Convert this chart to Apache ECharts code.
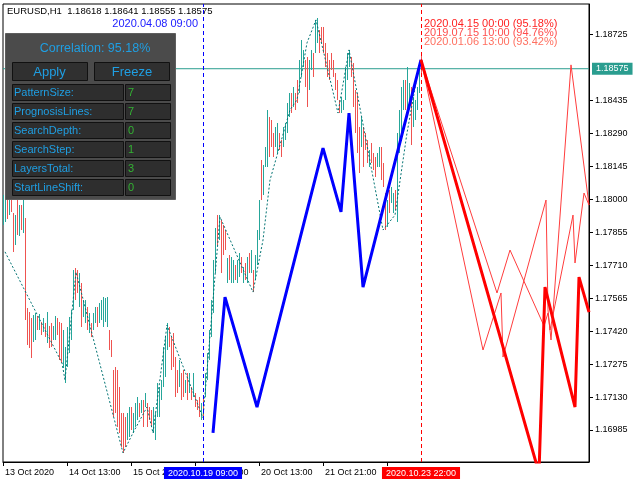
<!DOCTYPE html>
<html><head><meta charset="utf-8">
<script src="https://cdn.jsdelivr.net/npm/echarts@6/dist/echarts.min.js"></script>
<style>html,body{margin:0;padding:0;background:#fff}#c{width:640px;height:480px}</style>
</head><body><div id="c"></div>
<script>
// ---------- data ----------
const symbolName = 'EURUSD,H1';
const lastOHLC = [1.18618, 1.18641, 1.18555, 1.18575];

// hourly bars, 13 Oct 2020 05:00 .. 23 Oct 2020 22:00 (index 0..209)
const highs = [
1.18020,1.18064,1.18042,1.18020,1.18033,1.17940,1.17932,1.18006,1.17976,1.17976,
1.17998,1.17918,1.17522,1.17505,1.17478,1.17491,1.17500,1.17487,1.17496,1.17461,
1.17478,1.17456,1.17505,1.17443,1.17456,1.17443,1.17487,1.17478,1.17461,1.17456,
1.17425,1.17350,1.17438,1.17483,1.17513,1.17689,1.17698,1.17689,1.17676,1.17632,
1.17557,1.17557,1.17527,1.17500,1.17456,1.17500,1.17527,1.17527,1.17544,1.17557,
1.17571,1.17566,1.17571,1.17425,1.17381,1.17249,1.17262,1.17249,1.17174,1.17060,
1.17060,1.17042,1.17060,1.17086,1.17086,1.17060,1.17104,1.17130,1.17104,1.17117,
1.17117,1.17148,1.17104,1.17086,1.17073,1.17086,1.17060,1.17192,1.17174,1.17205,
1.17350,1.17394,1.17456,1.17438,1.17394,1.17412,1.17306,1.17249,1.17293,1.17236,
1.17249,1.17205,1.17236,1.17236,1.17174,1.17236,1.17148,1.17117,1.17130,1.17104,
1.17130,1.17236,1.17324,1.17425,1.17557,1.17733,1.17874,1.17932,1.17932,1.17910,
1.17887,1.17866,1.17742,1.17755,1.17747,1.17733,1.17711,1.17733,1.17764,1.17747,
1.17703,1.17720,1.17747,1.17764,1.17777,1.17689,1.17755,1.17866,1.17998,1.18174,
1.18152,1.18231,1.18394,1.18363,1.18350,1.18293,1.18319,1.18337,1.18293,1.18262,
1.18319,1.18337,1.18425,1.18469,1.18469,1.18495,1.18469,1.18526,1.18614,1.18702,
1.18658,1.18614,1.18627,1.18614,1.18658,1.18645,1.18790,1.18799,1.18746,1.18759,
1.18759,1.18689,1.18645,1.18614,1.18645,1.18614,1.18557,1.18526,1.18438,1.18451,
1.18438,1.18583,1.18645,1.18658,1.18627,1.18601,1.18482,1.18469,1.18319,1.18363,
1.18319,1.18293,1.18262,1.18218,1.18249,1.18205,1.18187,1.18205,1.18231,1.18231,
1.18161,1.18028,1.17998,1.18042,1.18055,1.18028,1.18042,1.18293,1.18394,1.18495,
1.18526,1.18526,1.18583,1.18513,1.18495,1.18451,1.18438,1.18495,1.18601,1.18641];
const lows = [
1.17887,1.17901,1.17914,1.17932,1.17945,1.17769,1.17799,1.17843,1.17839,1.17866,
1.17852,1.17469,1.17359,1.17346,1.17302,1.17372,1.17381,1.17425,1.17425,1.17403,
1.17416,1.17394,1.17368,1.17346,1.17350,1.17381,1.17381,1.17403,1.17293,1.17280,
1.17258,1.17192,1.17262,1.17324,1.17381,1.17513,1.17557,1.17588,1.17527,1.17438,
1.17483,1.17456,1.17425,1.17412,1.17394,1.17425,1.17456,1.17438,1.17456,1.17469,
1.17438,1.17461,1.17438,1.17337,1.17306,1.17042,1.17060,1.16998,1.16972,1.16910,
1.16884,1.16910,1.16941,1.16954,1.16985,1.16972,1.16998,1.17029,1.17042,1.17060,
1.16998,1.17086,1.16998,1.17029,1.16998,1.16972,1.16941,1.17042,1.17042,1.17117,
1.17174,1.17218,1.17337,1.17350,1.17249,1.17262,1.17130,1.17148,1.17174,1.17117,
1.17130,1.17148,1.17117,1.17148,1.17117,1.17130,1.17086,1.17073,1.17042,1.17029,
1.17042,1.17130,1.17205,1.17293,1.17394,1.17500,1.17676,1.17799,1.17821,1.17676,
1.17755,1.17777,1.17632,1.17645,1.17632,1.17632,1.17645,1.17632,1.17659,1.17676,
1.17632,1.17645,1.17632,1.17676,1.17676,1.17593,1.17645,1.17711,1.17821,1.17998,
1.18020,1.18143,1.18143,1.18187,1.18231,1.18187,1.18231,1.18205,1.18218,1.18187,
1.18231,1.18262,1.18293,1.18363,1.18381,1.18407,1.18394,1.18425,1.18469,1.18539,
1.18583,1.18495,1.18407,1.18482,1.18570,1.18539,1.18645,1.18689,1.18645,1.18689,
1.18645,1.18583,1.18539,1.18526,1.18570,1.18539,1.18482,1.18438,1.18381,1.18381,
1.18394,1.18438,1.18526,1.18583,1.18539,1.18407,1.18293,1.18205,1.18117,1.18231,
1.18143,1.18218,1.18161,1.18143,1.18161,1.18130,1.18099,1.18143,1.18143,1.18086,
1.18055,1.17866,1.17879,1.17940,1.17984,1.17940,1.17954,1.17901,1.18205,1.18293,
1.18394,1.18394,1.18394,1.18407,1.18240,1.18319,1.18350,1.18394,1.18469,1.18555];
// U = bullish bar, D = bearish bar
const dirs = ('UUDUDDUDUD'+'UDDDDUUDUD'+'UDUDDUUDDD'+'UUUUUUDDUD'+'UUDUDUUDUU'+
  'UUUDDDDDDD'+'DDUUDUUUDU'+'DUDDDUUUUU'+'UUUDDDDDUD'+'DUDUDUDDDU'+
  'DUUUUUUDUD'+'DDUDUUDUUD'+'UDUDUDUUUD'+'UUUDDDUUDD'+'UUUUDUDDUU'+
  'UDDUUDUUDD'+'DDDDDDDDDU'+'UUUUDDDDDU'+'DDDUDDDUUD'+'DDUDUUDUUU'+'UDUUDUUUUD');

// dotted teal trend line [barIndex, price]
const trendLine = [[1,1.17769],[29.5,1.17280],[31,1.17205],[36.5,1.17680],[60,1.16884],
  [65,1.16972],[72,1.17086],[75,1.16972],[82,1.17447],[100,1.17038],[105,1.17557],
  [108.5,1.17923],[125,1.17592],[130,1.17821],[133.5,1.18085],[143.5,1.18394],[147,1.18438],
  [152,1.18689],[156.5,1.18790],[167.5,1.18380],[173,1.18658],[190,1.17865],[196,1.17931],
  [202,1.18292],[207,1.18539],[209,1.18614]];
// blue pattern line
const patternLine = [[105,1.16972],[111,1.17570],[127,1.17086],[160,1.18226],[169,1.17945],
  [173,1.18380],[180,1.17614],[209,1.18614]];
// forecast lines (bars ahead of index 209)
const forecastMain = [[209,1.18614],[268,1.16796],[271,1.17614],[286,1.17086],[288,1.17658],[293,1.17504]];
const forecast2 = [[209,1.18614],[247,1.17588],[253.5,1.17777],[270.5,1.17443],[272.5,1.17500],
  [273.5,1.17425],[285,1.17931],[286,1.17720],[290.5,1.18028],[293,1.17975]];
const forecast3 = [[209,1.18614],[240,1.17337],[249,1.17588],[250,1.17306],[271.5,1.17997],
  [272.5,1.17513],[274,1.17381],[284,1.18592],[293,1.17975]];

const xTickIdx = [0,32,64,96,128,160,192];
const xTickText = ['13 Oct 2020','14 Oct 13:00','15 Oct 21:00','19 Oct 05:00','20 Oct 13:00','21 Oct 21:00','23 Oct 05:00'];
const yTicks = [1.18725,1.18435,1.18290,1.18145,1.18000,1.17855,1.17710,1.17565,1.17420,1.17275,1.17130,1.16985];
const yMin = 1.16844, yMax = 1.18860;
const xMin = 0, xMax = 293;

const patternStartIdx = 100, patternStartTime = '2020.10.19 09:00';
const lastIdx = 209, lastTime = '2020.10.23 22:00';
const bestMatchTime = '2020.04.08 09:00';
const matches = ['2020.04.15 00:00 (95.18%)','2019.07.15 10:00 (94.76%)','2020.01.06 13:00 (93.42%)'];
const matchColors = ['#ff1f1f','#ff4d4d','#ff7060'];
const correlationText = 'Correlation: 95.18%';
const panelParams = [['PatternSize:','7'],['PrognosisLines:','7'],['SearchDepth:','0'],
  ['SearchStep:','1'],['LayersTotal:','3'],['StartLineShift:','0']];

// ---------- chart ----------
const FONT = '"Liberation Sans", Arial, sans-serif';
const UP = '#26a69a', DOWN = '#ef5350', BIDC = '#2a9d8f';
const barData = highs.map((h, i) => [i, lows[i], h, dirs[i] === 'U' ? 1 : -1]);

const graphic = [];
graphic.push({type:'text', x:7, y:11, z:50, style:{text: symbolName + '  ' + lastOHLC.map(v=>v.toFixed(5)).join(' '),
  font:'9.5px ' + FONT, fill:'#000', align:'left', verticalAlign:'middle'}});
graphic.push({type:'text', x:198, y:24, z:50, style:{text: bestMatchTime, font:'11px ' + FONT, fill:'#2020ff', align:'right', verticalAlign:'middle'}});
matches.forEach((t, k) => graphic.push({type:'text', x:424, y:24 + 9*k, z:50,
  style:{text:t, font:'11px ' + FONT, fill:matchColors[k], align:'left', verticalAlign:'middle'}}));
// control panel
const CY = '#1f9fe3', GR = '#33b233';
graphic.push({type:'rect', z:100, shape:{x:5.5, y:33.5, width:170, height:166}, style:{fill:'#4b4b4b', stroke:'#5e5e5e', lineWidth:1}});
graphic.push({type:'text', z:101, x:95, y:49, style:{text:correlationText, font:'12.5px ' + FONT, fill:CY, align:'center', verticalAlign:'middle'}});
[['Apply',12.5,49.5],['Freeze',94.5,132]].forEach(([t,x,cx]) => {
  graphic.push({type:'rect', z:101, shape:{x:x, y:62.5, width:75, height:18}, style:{fill:'#303030', stroke:'#111', lineWidth:1}});
  graphic.push({type:'text', z:102, x:cx, y:72, style:{text:t, font:'13px ' + FONT, fill:CY, align:'center', verticalAlign:'middle'}});
});
panelParams.forEach(([lab,val], k) => {
  const y = 84.5 + 19*k;
  graphic.push({type:'rect', z:101, shape:{x:12.5, y:y, width:111, height:16}, style:{fill:'#2e2e2e', stroke:'#111', lineWidth:1}});
  graphic.push({type:'rect', z:101, shape:{x:125.5, y:y, width:45, height:16}, style:{fill:'#2e2e2e', stroke:'#111', lineWidth:1}});
  graphic.push({type:'text', z:102, x:14, y:y+8.5, style:{text:lab, font:'11px ' + FONT, fill:CY, align:'left', verticalAlign:'middle'}});
  graphic.push({type:'text', z:102, x:128, y:y+8.5, style:{text:val, font:'11px ' + FONT, fill:GR, align:'left', verticalAlign:'middle'}});
});

const chart = echarts.init(document.getElementById('c'), null, {renderer:'canvas'});
chart.setOption({
  animation:false,
  grid:{left:3, top:4, right:51, bottom:18, show:true, borderColor:'#000', borderWidth:1, backgroundColor:'rgba(0,0,0,0)'},
  xAxis:{type:'value', min:xMin, max:xMax, splitLine:{show:false},
    axisLine:{show:true, onZero:false, lineStyle:{color:'#000'}},
    axisTick:{show:true, length:4, customValues:xTickIdx, lineStyle:{color:'#000'}},
    axisLabel:{customValues:xTickIdx, formatter:v => xTickText[xTickIdx.indexOf(v)] || '', align:'left',
      padding:[0,0,0,2], margin:6, fontSize:9, fontFamily:FONT, color:'#000'}},
  yAxis:{type:'value', position:'right', min:yMin, max:yMax, splitLine:{show:false},
    axisLine:{show:true, onZero:false, lineStyle:{color:'#000'}},
    axisTick:{show:true, length:4, customValues:yTicks, lineStyle:{color:'#000'}},
    axisLabel:{customValues:yTicks, formatter:v => v.toFixed(5), margin:6, fontSize:9, fontFamily:FONT, color:'#000'}},
  series:[
    // bid price line with its price tag
    {type:'line', z:1, data:[[xMin, lastOHLC[3]], [xMax, lastOHLC[3]]], symbol:'none', clip:false,
      lineStyle:{color:BIDC, width:1},
      endLabel:{show:true, formatter:lastOHLC[3].toFixed(5), color:'#fff', backgroundColor:BIDC,
        padding:[2,4,1,4], fontSize:9, fontFamily:FONT, distance:3}},
    {type:'custom', z:2, data:barData, encode:{x:0, y:[1,2]},
      renderItem:(params, api) => {
        const i = api.value(0), lo = api.value(1), hi = api.value(2), d = api.value(3);
        const a = api.coord([i, lo]), b = api.coord([i, hi]);
        const x = Math.round(a[0]) + 0.5;
        return {type:'line', shape:{x1:x, y1:Math.round(a[1]), x2:x, y2:Math.round(b[1])},
          style:{stroke: d > 0 ? UP : DOWN, lineWidth:1}};
      }},
    {type:'line', z:3, data:trendLine, symbol:'none', lineStyle:{color:'#007272', width:1, type:[2,2]}},
    {type:'line', z:5, data:patternLine, symbol:'none', lineStyle:{color:'#0000ff', width:3},
      markLine:{silent:true, symbol:['none','none'], animation:false,
        data:[
          {xAxis:patternStartIdx, lineStyle:{color:'#0000ff', type:[4,3], width:1},
            label:{show:true, position:'start', formatter:patternStartTime, color:'#fff', backgroundColor:'#0000ff',
              padding:[2,4,1,4], fontSize:9, fontFamily:FONT, distance:5}},
          {xAxis:lastIdx, lineStyle:{color:'#ff0000', type:[4,3], width:1},
            label:{show:true, position:'start', formatter:lastTime, color:'#fff', backgroundColor:'#ff0000',
              padding:[2,4,1,4], fontSize:9, fontFamily:FONT, distance:5}}
        ]}},
    {type:'line', z:4, data:forecast2, symbol:'none', lineStyle:{color:'#ff3c3c', width:1}},
    {type:'line', z:4, data:forecast3, symbol:'none', lineStyle:{color:'#ff3c3c', width:1}},
    {type:'line', z:6, data:forecastMain, symbol:'none', lineStyle:{color:'#ff0000', width:3}}
  ],
  graphic:graphic
});
</script></body></html>
